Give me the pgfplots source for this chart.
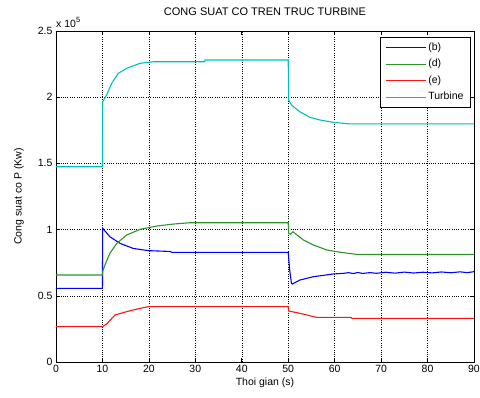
\documentclass[border=0pt]{standalone}
\usepackage{fontspec}
\setmainfont{Liberation Sans}
\usepackage{pgfplots}
\pgfplotsset{compat=1.18}
\definecolor{mblue}{RGB}{0,0,255}
\definecolor{mgreen}{RGB}{40,150,40}
\definecolor{mred}{RGB}{255,20,20}
\definecolor{mcyan}{RGB}{0,190,190}
\newcommand{\fs}{\fontsize{10.5bp}{12bp}\selectfont}
\begin{document}
\begin{tikzpicture}
\path[use as bounding box] (-56bp,-36bp) rectangle (424bp,362bp);
\begin{axis}[
  name=ax,
  at={(0,0)}, anchor=south west,
  scale only axis, width=418bp, height=331bp,
  xmin=0, xmax=90, ymin=0, ymax=2.5,
  xtick={0,10,...,90},
  ytick={0,0.5,1,1.5,2,2.5},
  yticklabels={0,0.5,1,1.5,2,2.5},
  grid=major,
  major grid style={black, line width=0.45pt, dash pattern=on 1bp off 1.3bp},
  tick align=inside, tick pos=both,
  major tick length=4bp,
  axis line style={black, line width=0.9pt},
  tick style={black, line width=0.6pt},
  ticklabel style={font=\fs},
  /pgf/number format/assume math mode=true,
  title={CONG SUAT CO TREN TRUC TURBINE},
  title style={font=\fontsize{11bp}{13bp}\selectfont, at={(axis description cs:0.5,1.039)}, anchor=center},
  xlabel={Thoi gian (s)},
  xlabel style={font=\fs, at={(axis description cs:0.5,-0.0634)}, anchor=center},
  ylabel={Cong suat co P (Kw)},
  ylabel style={font=\fs, at={(axis description cs:-0.0885,0.5)}, anchor=center, rotate=0},
  legend cell align=left,
  legend image code/.code={\draw[#1] (0bp,0bp) -- (40bp,0bp);},
  legend style={at={(axis description cs:0.9928,0.9819)}, anchor=north east,
    draw=black, line width=1pt, font=\fs, fill=white,
    inner xsep=5bp, inner ysep=3bp, row sep=2bp,
    nodes={inner sep=2bp, text height=8bp, text depth=2.5bp}},
]
\addplot[mblue, line width=1.1pt] coordinates {
(0,0.556) (10,0.556) (10.05,1.01) (11.6,0.946) (13.8,0.896) (16.6,0.858) (19.9,0.841) (24.5,0.835) (25,0.828) (50,0.828) (50.3,0.70) (50.7,0.594) (50.9,0.589) (52.5,0.619) (55.4,0.644) (59.7,0.665) (62,0.670) (63,0.675) (64,0.668) (65,0.676) (66,0.669) (67.6,0.675) (69,0.670) (71,0.678) (73,0.671) (75,0.679) (77,0.672) (79,0.678) (81,0.673) (83,0.680) (85,0.674) (87,0.681) (88.5,0.675) (90,0.682)};
\addlegendentry{(b)}
\addplot[mgreen, line width=1.1pt] coordinates {
(0,0.657) (10,0.657) (10.1,0.69) (10.55,0.733) (11.6,0.821) (13.1,0.896) (15.2,0.959) (18.1,1.002) (21.7,1.027) (25.3,1.042) (28.9,1.052) (50,1.052) (50.1,0.97) (50.5,0.965) (51,0.984) (53.3,0.921) (55.4,0.884) (58.3,0.846) (61.2,0.829) (64.7,0.813) (90,0.813)};
\addlegendentry{(d)}
\addplot[mred, line width=1.1pt] coordinates {
(0,0.267) (10,0.267) (10.9,0.287) (12.7,0.355) (15.2,0.38) (18.1,0.405) (19.9,0.418) (50,0.418) (50.1,0.385) (52.5,0.368) (56.1,0.337) (63.5,0.337) (63.7,0.33) (90,0.33)};
\addlegendentry{(e)}
\addplot[mcyan, line width=1.1pt] coordinates {
(0,1.475) (10,1.475) (10.05,1.966) (10.9,2.017) (12.0,2.105) (13.4,2.18) (15.2,2.218) (18.1,2.256) (21,2.268) (32,2.268) (32.1,2.281) (50,2.281) (50.1,1.979) (50.7,1.941) (52.5,1.89) (54.7,1.848) (56.8,1.828) (59.7,1.81) (63.3,1.798) (90,1.798)};
\addlegendentry{Turbine}
\end{axis}
\node[anchor=south west, font=\fs, inner sep=0pt] at ([yshift=3bp]ax.north west) {x 10\raisebox{5bp}{\fontsize{7.5bp}{8bp}\selectfont 5}};
\end{tikzpicture}
\end{document}
